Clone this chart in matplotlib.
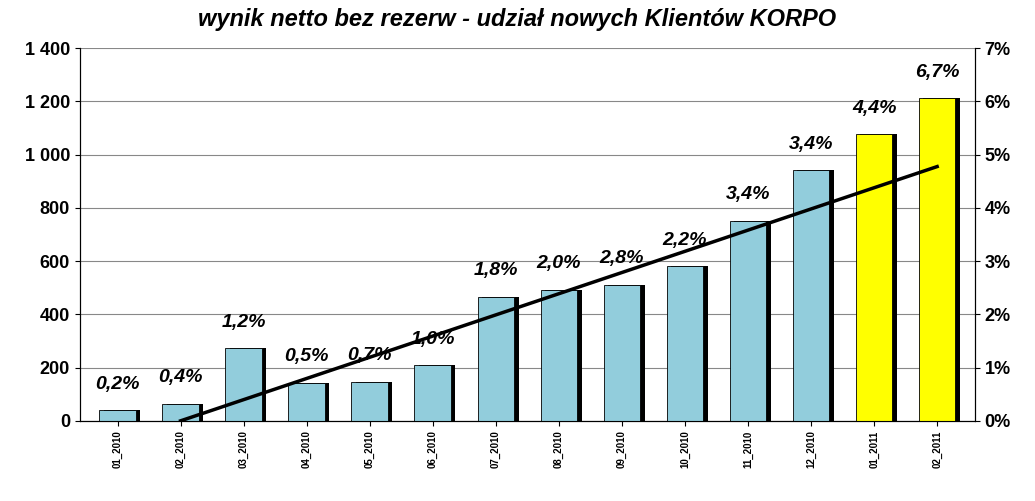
import matplotlib.pyplot as plt
import numpy as np
from matplotlib.ticker import FuncFormatter

plt.rcParams['font.family'] = 'Liberation Sans'

# DATA
months = ['01_2010', '02_2010', '03_2010', '04_2010', '05_2010', '06_2010', '07_2010',
          '08_2010', '09_2010', '10_2010', '11_2010', '12_2010', '01_2011', '02_2011']
values = [40, 65, 272, 143, 147, 210, 467, 493, 512, 580, 752, 942, 1078, 1212]
shares = ['0,2%', '0,4%', '1,2%', '0,5%', '0,7%', '1,0%', '1,8%',
          '2,0%', '2,8%', '2,2%', '3,4%', '3,4%', '4,4%', '6,7%']
trend_start = (1, 0)      # (bar index, value)
trend_end = (13, 955)

fig = plt.figure(figsize=(10.35, 5.01), dpi=100)
ax = fig.add_axes([0.077, 0.16, 0.865, 0.744])
x = np.arange(len(months))
colors = ['#92CDDC'] * 12 + ['#FFFF00'] * 2

# shadows then bars
ax.bar(x + 0.07, values, width=0.58, color='black', zorder=2)
ax.bar(x, values, width=0.58, color=colors, edgecolor='black', linewidth=0.6, zorder=3)

for xi, v, s in zip(x, values, shares):
    ax.text(xi, v + 65, s, ha='center', va='bottom', fontsize=14,
            fontweight='bold', fontstyle='italic', zorder=5)

ax.plot([trend_start[0], trend_end[0]], [trend_start[1], trend_end[1]],
        color='black', lw=2.5, zorder=4)

ax.set_xlim(-0.6, 13.6)
ax.set_ylim(0, 1400)
ax.set_yticks(range(0, 1401, 200))
ax.yaxis.set_major_formatter(FuncFormatter(lambda v, p: f'{int(v):,}'.replace(',', ' ')))
ax.grid(axis='y', color='#888888', lw=0.8, zorder=0)
ax.set_axisbelow(True)
ax.set_xticks(x)
ax.set_xticklabels(months, rotation=90, fontsize=7, fontweight='bold')
for lab in ax.get_yticklabels():
    lab.set_fontweight('bold')
    lab.set_fontsize(13)
ax.spines['top'].set_visible(False)

ax2 = ax.twinx()
ax2.set_ylim(0, 7)
ax2.set_yticks(range(0, 8))
ax2.set_yticklabels([f'{i}%' for i in range(8)], fontsize=13, fontweight='bold')
ax2.spines['top'].set_visible(False)

fig.suptitle('wynik netto bez rezerw - udział nowych Klientów KORPO', x=0.5, y=0.985,
             fontsize=17, fontweight='bold', fontstyle='italic')
fig.savefig('out.png', dpi=100)
